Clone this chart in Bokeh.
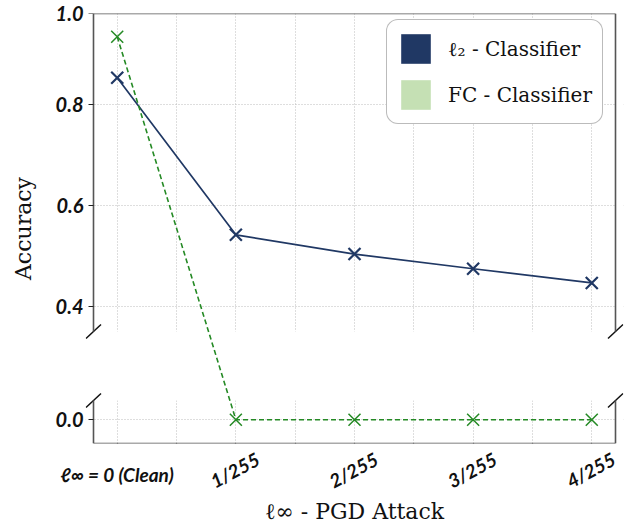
import math
from bokeh.plotting import figure
from bokeh.models import (Range1d, FixedTicker, LinearAxis, BoxAnnotation,
                          Legend, LegendItem)
from bokeh.embed import file_html
from bokeh.resources import INLINE

# ---------------- data ----------------
attack_labels = ["ℓ∞ = 0 (Clean)", "1/255", "2/255", "3/255", "4/255"]
l2_acc = [0.852, 0.542, 0.504, 0.475, 0.447]
fc_acc = [0.933, 0.0, 0.0, 0.0, 0.0]
y_ticks = [0.0, 0.4, 0.6, 0.8, 0.979]
y_tick_labels = ["0.0", "0.4", "0.6", "0.8", "1.0"]
series_names = ["ℓ₂ - Classifier", "FC - Classifier"]
x_title = "ℓ∞ - PGD Attack"
y_title = "Accuracy"

# ---------------- style / layout ----------------
NAVY = "#203864"
GREEN = "#258a25"
LIGHT_GREEN = "#c5e0b4"
SPINE = "#555555"
GRID = "#bdbdbd"
TICK_FONT = "Lato"
SERIF = "DejaVu Serif"

# broken y axis: upper panel, gap, lower panel (accuracy units)
TOP_LO, TOP_HI = 0.351, 0.979
LOW_LO, LOW_HI = -0.047, 0.038
GAP = 0.136
offset = (TOP_LO - GAP) - LOW_HI          # shift applied to lower-panel values


def to_plot(v):
    return v if v >= TOP_LO else v + offset


W, H = 627, 529
BL, BR, BT, BB = 85, 4, 13, 86     # frame: x 85..623, y 13..443
SPINE_PAD_PX = 8                   # frame reaches past the spines (break marks)

x = list(range(len(attack_labels)))
frame_w = W - BL - BR
X_LO, X_HI = -0.2, len(x) - 1 + 0.2
PX_X = (frame_w - 2 * SPINE_PAD_PX) / (X_HI - X_LO)
pad = SPINE_PAD_PX / PX_X
Y_START = to_plot(LOW_LO)
PX_Y = (H - BT - BB) / (TOP_HI - Y_START)
grid_ticks = [i * 0.5 for i in range(2 * (len(x) - 1) + 1)]

l2_plot = [to_plot(v) for v in l2_acc]
fc_plot = [to_plot(v) for v in fc_acc]
y_pos = [to_plot(t) for t in y_ticks]

p = figure(width=W, height=H,
           x_range=Range1d(X_LO - pad, X_HI + pad),
           y_range=Range1d(Y_START, TOP_HI),
           x_axis_location=None, y_axis_location=None,
           output_backend="svg", toolbar_location=None,
           min_border_left=BL, min_border_right=BR,
           min_border_top=BT, min_border_bottom=BB)
p.outline_line_color = None
p.background_fill_color = "white"

# grid
p.xgrid.ticker = FixedTicker(ticks=grid_ticks)
p.ygrid.ticker = FixedTicker(ticks=y_pos)
for g in (p.xgrid[0], p.ygrid[0]):
    g.grid_line_color = GRID
    g.grid_line_dash = "1 2"
    g.grid_line_width = 1
# blank out grid in the axis break and outside the spines
for kw in (dict(bottom=to_plot(LOW_HI), top=TOP_LO), dict(right=X_LO), dict(left=X_HI)):
    p.add_layout(BoxAnnotation(fill_color="white", fill_alpha=1, line_color=None,
                               level="underlay", **kw))

# ---- labelled axes (normal side placement) ----
ya = LinearAxis(ticker=FixedTicker(ticks=y_pos),
                major_label_overrides={yp: l for yp, l in zip(y_pos, y_tick_labels)},
                axis_line_color=None, major_tick_line_color=None,
                major_tick_out=0, major_tick_in=0,
                minor_tick_line_color=None, minor_tick_out=0, minor_tick_in=0,
                major_label_standoff=2,
                major_label_text_font=TICK_FONT,
                major_label_text_font_style="bold italic",
                major_label_text_font_size="20px",
                major_label_text_color="#111111",
                axis_label=y_title, axis_label_standoff=17,
                axis_label_text_font=SERIF, axis_label_text_font_style="normal",
                axis_label_text_font_size="22px", axis_label_text_color="#111111")
p.add_layout(ya, "left")

# rotated tick labels (attack strengths), centred under their ticks
LABEL_SHIFT_PX = 22
rot_pos = [x[i] + LABEL_SHIFT_PX / PX_X for i in range(1, len(x))]
xr = LinearAxis(ticker=FixedTicker(ticks=rot_pos),
                major_label_overrides={pos: attack_labels[i + 1] for i, pos in enumerate(rot_pos)},
                major_label_orientation=0.49, axis_line_color=None,
                major_tick_line_color=None, minor_tick_line_color=None,
                major_tick_out=0, major_tick_in=0, minor_tick_out=0, minor_tick_in=0,
                major_label_standoff=14,
                major_label_text_font=TICK_FONT,
                major_label_text_font_style="bold italic",
                major_label_text_font_size="19px",
                major_label_text_color="#111111")
p.add_layout(xr, "below")

# horizontal "clean" tick label (pulled up beside the rotated ones) + x title
xc = LinearAxis(ticker=FixedTicker(ticks=[x[0]]),
                major_label_overrides={x[0]: attack_labels[0]},
                axis_line_color=None, major_tick_line_color=None,
                minor_tick_line_color=None, major_tick_out=0, major_tick_in=0,
                minor_tick_out=0, minor_tick_in=0,
                major_label_standoff=-43, major_label_text_font=TICK_FONT,
                major_label_text_font_style="bold italic",
                major_label_text_font_size="19px",
                major_label_text_color="#111111",
                axis_label=x_title, axis_label_standoff=10,
                axis_label_text_font=SERIF, axis_label_text_font_style="normal",
                axis_label_text_font_size="22px", axis_label_text_color="#111111")
p.add_layout(xc, "below")


# ---- spines and tick marks (fixed at the data edges) ----
def spine(loc, bounds, side, ticks=(), tick_out=0):
    ax = LinearAxis(fixed_location=loc, bounds=bounds,
                    ticker=FixedTicker(ticks=list(ticks)),
                    major_label_overrides={t: "" for t in ticks},
                    axis_line_color=SPINE, axis_line_width=1.6,
                    major_tick_line_color="#222222", major_tick_line_width=1.2,
                    major_tick_out=tick_out, major_tick_in=0,
                    minor_tick_line_color=None, minor_tick_out=0, minor_tick_in=0,
                    major_label_standoff=0)
    p.add_layout(ax, side)


upper = (TOP_LO, TOP_HI)
lower = (Y_START, to_plot(LOW_HI))
spine(X_LO, upper, "left", [yp for yp in y_pos if yp >= TOP_LO], 5)
spine(X_LO, lower, "left", [yp for yp in y_pos if yp < TOP_LO], 5)
spine(X_HI, upper, "right")
spine(X_HI, lower, "right")
spine(TOP_HI, (X_LO, X_HI), "above")
spine(Y_START, (X_LO, X_HI), "below", grid_ticks, 6)

# ---- data ----
p.line(x, l2_plot, line_color=NAVY, line_width=1.7)
p.scatter(x, l2_plot, marker="x", size=17, line_color=NAVY, line_width=2.2)
p.line(x, fc_plot, line_color=GREEN, line_width=1.6, line_dash="5 3")
p.scatter(x, fc_plot, marker="x", size=17, line_color=GREEN, line_width=1.5)

# axis-break marks
dx, dy = 7.5 / PX_X, 7.0 / PX_Y
bx, by = [], []
for xs in (X_LO, X_HI):
    for ys in (TOP_LO, to_plot(LOW_HI)):
        bx.append(xs)
        by.append(ys)
p.segment(x0=[v - dx for v in bx], y0=[v - dy for v in by],
          x1=[v + dx for v in bx], y1=[v + dy for v in by],
          line_color="#111111", line_width=1.5)

# legend (square colour patches)
nan = float("nan")
r_l2 = p.quad(left=[nan], right=[nan], top=[nan], bottom=[nan],
              fill_color=NAVY, line_color=None)
r_fc = p.quad(left=[nan], right=[nan], top=[nan], bottom=[nan],
              fill_color=LIGHT_GREEN, line_color=None)
legend = Legend(items=[LegendItem(label=series_names[0], renderers=[r_l2]),
                       LegendItem(label=series_names[1], renderers=[r_fc])],
                location=(386 - BL, (H - BB) - 124), padding=10, spacing=9,
                glyph_width=37, glyph_height=37, label_standoff=14,
                label_text_font=SERIF, label_text_font_size="20px",
                label_text_color="#111111",
                border_line_color="#777777", border_line_width=1.5,
                border_radius=12, background_fill_color="white",
                background_fill_alpha=1)
p.add_layout(legend)

open("out.html", "w").write(file_html(p, INLINE))
